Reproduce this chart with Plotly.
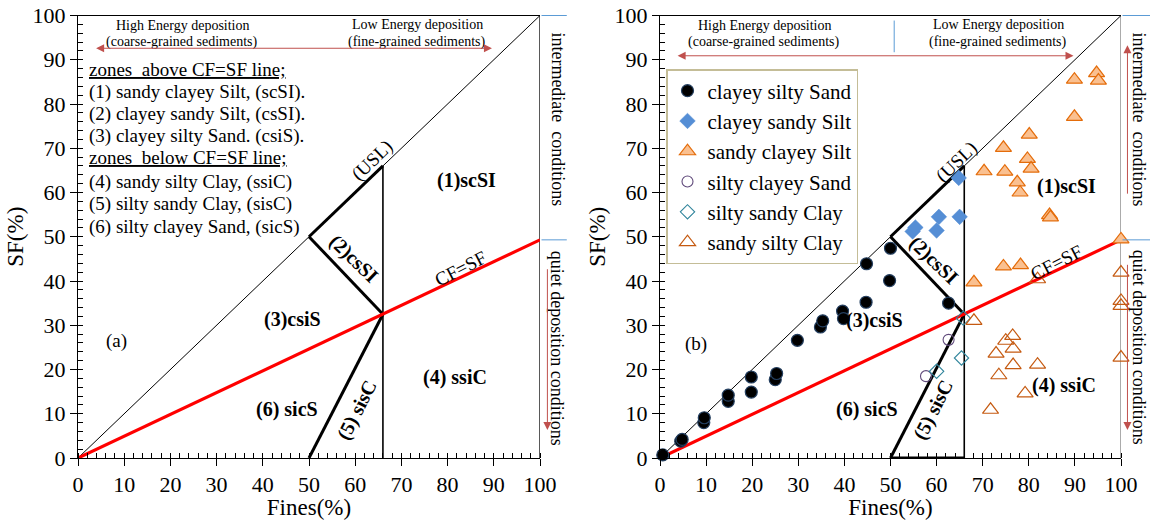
import plotly.graph_objects as go

FONT = "Liberation Serif"

# ---------------- data (panel b) ----------------
csiS_x = [0.6, 4.5, 4.8, 9.5, 9.6, 14.8, 14.8, 19.8, 19.8, 25.0, 25.3, 29.8, 34.8, 35.3,
          39.6, 39.8, 44.7, 44.8, 49.8, 50.0, 62.6]
csiS_y = [0.7, 3.8, 4.2, 8.0, 9.1, 12.8, 14.2, 14.9, 18.3, 17.7, 19.1, 26.6, 29.6, 31.0,
          33.2, 31.5, 35.2, 43.9, 40.1, 47.4, 35.0]

csSI_x = [54.8, 55.4, 60.0, 60.5, 65.0, 64.8]
csSI_y = [51.2, 52.1, 51.4, 54.5, 54.5, 63.3]

scSI_x = [89.9, 94.7, 95.1, 89.9, 80.1, 74.5, 79.7, 80.5, 70.3, 74.8, 77.5, 78.1, 84.5, 84.7,
          100.0, 74.5, 78.2, 68.1]
scSI_y = [85.5, 87.0, 85.3, 77.1, 73.1, 70.1, 67.6, 65.4, 64.8, 64.7, 62.3, 60.0, 54.9, 54.4,
          49.4, 43.3, 43.6, 39.7]

sicS_x = [57.7, 62.6]
sicS_y = [18.5, 26.7]

sisC_x = [60.0, 65.4, 65.8]
sisC_y = [19.6, 22.6, 31.6]

ssiC_x = [81.9, 68.1, 100.0, 100.0, 100.0, 100.0, 76.5, 75.0, 76.6, 72.9, 76.6, 81.9, 73.5,
          79.2, 71.7]
ssiC_y = [40.4, 31.0, 41.9, 35.5, 34.4, 22.7, 27.6, 26.5, 24.7, 23.6, 21.0, 21.1, 18.7,
          14.6, 10.9]

# ---------------- chart geometry (zone boundaries) ----------------
diag_x, diag_y = [0, 100], [0, 100]            # 1:1 line
cfsf_x, cfsf_y = [0, 100], [0, 49.3]           # CF=SF line
usl_x, usl_y = [50, 66], [50, 66]              # USL segment
b2_x, b2_y = [50, 66], [50, 32.5]              # (2)/(3) boundary
b5_x, b5_y = [50, 66], [0, 32.5]               # (5)/(6) boundary
v66_x, v66_y = [66, 66], [0, 66]               # vertical at 66 %
base_x, base_y = [50, 66], [0, 0]              # base segment (panel b)
edge_x, edge_y = [100, 100], [0, 100]          # right frame edge

zone_lines = ["<u>zones  above CF=SF line;</u>",
              "(1) sandy clayey Silt, (scSI).",
              "(2) clayey sandy Silt, (csSI).",
              "(3) clayey silty Sand. (csiS).",
              "<u>zones  below CF=SF line;</u>",
              "(4) sandy silty Clay, (ssiC)",
              "(5) silty sandy Clay, (sisC)",
              "(6) silty clayey Sand, (sicS)"]
zone_line_y = [87.8, 82.8, 77.8, 72.8, 67.8, 62.3, 57.3, 52.2]

ARROW = "#C0504D"
BLUE = "#5B9BD5"

fig = go.Figure()


def boundaries(xr, yr, base=False, edge_color="black"):
    def ln(x, y, w, c="black"):
        fig.add_trace(go.Scatter(x=x, y=y, mode="lines", xaxis=xr, yaxis=yr,
                                 line=dict(color=c, width=w), showlegend=False,
                                 hoverinfo="skip", cliponaxis=False))
    ln(edge_x, edge_y, 1.3, edge_color)
    ln(diag_x, diag_y, 1)
    ln(v66_x, v66_y, 1.6)
    ln(usl_x, usl_y, 3)
    ln(b2_x, b2_y, 3)
    ln(b5_x, b5_y, 3)
    if base:
        ln(base_x, base_y, 3)
    ln(cfsf_x, cfsf_y, 3.2, "#FF0000")


boundaries("x", "y")
boundaries("x2", "y2", base=True, edge_color="#7F7F7F")

# data traces (panel b)
series = [
    ("clayey silty Sand", csiS_x, csiS_y,
     dict(symbol="circle", size=12, color="black", line=dict(color="#243F60", width=1.2))),
    ("clayey sandy Silt", csSI_x, csSI_y,
     dict(symbol="diamond", size=12, color="#558ED5", line=dict(color="#558ED5", width=0.5))),
    ("sandy clayey Silt", scSI_x, scSI_y,
     dict(symbol="triangle-up", size=14, color="#FAC090", line=dict(color="#E46C0A", width=1.2))),
    ("silty clayey Sand", sicS_x, sicS_y,
     dict(symbol="circle-open", size=11, color="#604A7B", line=dict(color="#604A7B", width=1.1))),
    ("silty sandy Clay", sisC_x, sisC_y,
     dict(symbol="diamond-open", size=11, color="#31859C", line=dict(color="#31859C", width=1.1))),
    ("sandy silty Clay", ssiC_x, ssiC_y,
     dict(symbol="triangle-up-open", size=14, color="#C55A11", line=dict(color="#C55A11", width=1.2))),
]
for name, xs, ys, mk in series:
    fig.add_trace(go.Scatter(x=xs, y=ys, mode="markers", name=name, xaxis="x2", yaxis="y2",
                             marker=mk, cliponaxis=False))


def ann(xr, x, y, text, size, bold=False, angle=0, xanchor="center", color="black",
        outside=False):
    yr = "y" if xr == "x" else "y2"
    if bold:
        text = "<b>" + text + "</b>"
    if outside:
        xr, x = xr + " domain", x / 100.0
    fig.add_annotation(xref=xr, yref=yr, x=x, y=y, text=text, showarrow=False,
                       textangle=angle, xanchor=xanchor, yanchor="middle",
                       font=dict(family=FONT, size=size, color=color))


def arrow(xr, x0, y0, x1, y1, color, both=False, head=True, width=1.0, outside=False):
    yr = "y" if xr == "x" else "y2"
    if outside:
        xr, x0, x1 = xr + " domain", x0 / 100.0, x1 / 100.0
    fig.add_annotation(xref=xr, yref=yr, axref=xr, ayref=yr, x=x1, y=y1, ax=x0, ay=y0,
                       text="", showarrow=True, arrowhead=2 if head else 0,
                       startarrowhead=2, arrowside="end+start" if both else "end",
                       arrowsize=1.6, startarrowsize=1.6, arrowwidth=width,
                       arrowcolor=color, standoff=0, startstandoff=0)


for xr in ["x", "x2"]:
    ann(xr, 22.7, 97.7, "High Energy deposition", 14)
    ann(xr, 22.5, 93.9, "(coarse-grained sediments)", 14)
    ann(xr, 73.5, 98.0, "Low Energy deposition", 14)
    ann(xr, 73.4, 94.1, "(fine-grained sediments)", 14)
    xv = 103.7 if xr == "x" else 103.9
    ann(xr, xv, 76.5, "intermediate  conditions", 18, angle=90, outside=True)
    ann(xr, xv, 24.9, "quiet deposition conditions", 18, angle=90, outside=True)
    # outside horizontal blue marks
    xe = 105.8 if xr == "x" else 106.5
    arrow(xr, 100, 100, xe, 100, BLUE, head=False, outside=True)
    arrow(xr, 100, 49.3, xe, 49.3, BLUE, head=False, outside=True)

# panel (a) texts
for t, yv in zip(zone_lines, zone_line_y):
    ann("x", 1.9, yv, t, 19, xanchor="left")
ann("x", 63.8, 67.3, "(USL)", 19, angle=-44)
ann("x", 84.0, 62.7, "(1)scSI", 20, bold=True)
ann("x", 59.6, 45.0, "(2)csSI", 20, bold=True, angle=44)
ann("x", 46.4, 31.4, "(3)csiS", 20, bold=True)
ann("x", 81.6, 18.2, "(4) ssiC", 20, bold=True)
ann("x", 60.3, 10.8, "(5) sisC", 20, bold=True, angle=-63)
ann("x", 45.2, 10.9, "(6) sicS", 20, bold=True)
ann("x", 82.8, 42.8, "CF=SF", 19, angle=-27)
ann("x", 8.4, 26.4, "(a)", 19)
arrow("x", 3.6, 92.6, 89.6, 92.6, ARROW, both=True)
arrow("x", 101.6, 43.0, 101.6, 6.3, ARROW, outside=True)

# panel (b) texts
ann("x2", 64.3, 67.0, "(USL)", 19, angle=-44)
ann("x2", 88.1, 61.4, "(1)scSI", 20, bold=True)
ann("x2", 59.4, 44.6, "(2)csSI", 20, bold=True, angle=44)
ann("x2", 46.5, 31.1, "(3)csiS", 20, bold=True)
ann("x2", 87.7, 16.3, "(4) ssiC", 20, bold=True)
ann("x2", 59.3, 11.0, "(5) sisC", 20, bold=True, angle=-63)
ann("x2", 44.9, 11.0, "(6) sicS", 20, bold=True)
ann("x2", 86.0, 44.1, "CF=SF", 19, angle=-27)
ann("x2", 7.7, 25.7, "(b)", 19)
arrow("x2", 3.5, 90.9, 89.7, 90.9, ARROW, both=True)
arrow("x2", 101.4, 59.4, 101.4, 93.3, ARROW, outside=True)
arrow("x2", 101.4, 44.0, 101.4, 6.3, ARROW, outside=True)
arrow("x2", 50.8, 99.2, 50.8, 91.7, BLUE, head=False)


def axis(domain, title, anchor, letter, **kw):
    standoff = kw.pop("standoff", 2)
    return dict(domain=domain, anchor=anchor, range=[0, 100], dtick=10, tick0=0,
                ticks="outside", ticklen=7, tickwidth=1, tickcolor="black",
                showline=True, linecolor="black", linewidth=1,
                mirror=(letter == "x"),
                showgrid=False, zeroline=False, automargin=False,
                tickfont=dict(family=FONT, size=22, color="black"),
                minor=dict(ticks="inside", dtick=2, ticklen=5, tickcolor="black",
                           tickwidth=1, showgrid=False),
                title=dict(text=title, font=dict(family=FONT, size=23, color="black"),
                           standoff=standoff),
                **kw)


YDOM = [1 - 458 / 520, 1 - 15.5 / 520]
fig.update_layout(
    width=1150, height=520,
    margin=dict(l=0, r=0, t=0, b=0),
    paper_bgcolor="white", plot_bgcolor="white",
    xaxis=axis([78 / 1150, 540 / 1150], "Fines(%)", "y", "x", standoff=0),
    yaxis=axis(YDOM, "SF(%)", "x", "y", standoff=2),
    xaxis2=axis([660 / 1150, 1121 / 1150], "Fines(%)", "y2", "x", standoff=0),
    yaxis2=axis(YDOM, "SF(%)", "x2", "y", standoff=2),
    legend=dict(x=666 / 1150, y=1 - 69 / 520, xanchor="left", yanchor="top",
                bgcolor="white", bordercolor="#C4BD97", borderwidth=1.5,
                font=dict(family=FONT, size=21, color="black"),
                itemwidth=30, tracegroupgap=0),
    showlegend=True,
)

fig.write_html("out.html")
